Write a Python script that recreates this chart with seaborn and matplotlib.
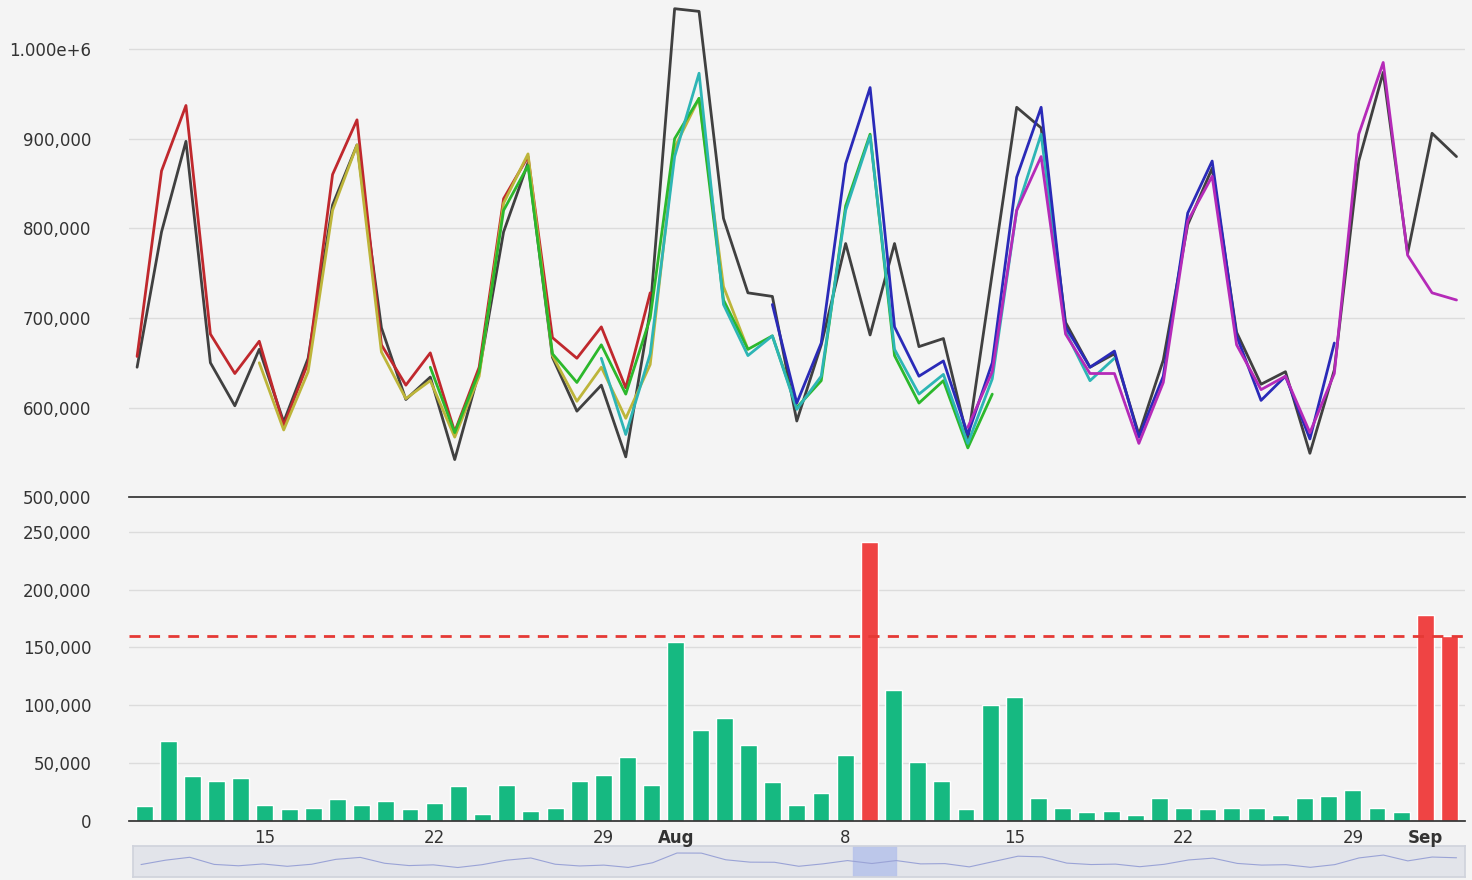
import numpy as np, pandas as pd, matplotlib
matplotlib.use("Agg")
import matplotlib.pyplot as plt
from matplotlib.ticker import FuncFormatter, NullFormatter
import seaborn as sns

sns.set_theme(style="white")
plt.rcParams['font.family'] = ['DejaVu Sans']

start = "2024-07-10"
actual = [645,796,897,650,602,665,584,655,826,893,689,609,634,542,640,796,873,656,596,625,545,708,
          1045,1042,811,728,724,585,670,783,681,783,668,677,564,750,935,912,695,645,660,570,653,804,867,
          684,626,640,549,642,875,974,772,906,880]
fc_red = ("2024-07-10",[657,864,937,682,638,674,580,650,860,921,670,625,661,573,645,833,880,678,655,690,622,728])
fc_olive = ("2024-07-15",[650,575,640,820,893,662,610,630,567,635,828,883,658,607,645,588,648,890,945,735,665])
fc_green = ("2024-07-22",[645,572,640,820,870,660,628,670,615,700,900,945,720,665,680,600,630,825,905,658,605,630,555,615])
fc_teal = ("2024-07-29",[655,570,660,880,973,715,658,680,598,635,820,903,665,615,637,560,632,820,905,685,630,655])
fc_navy = ("2024-08-05",[715,605,672,872,957,690,635,652,570,650,857,935,690,645,663,567,635,817,875,680,608,635,565,672])
fc_mag = ("2024-08-13",[578,640,820,880,682,638,638,560,628,808,858,670,620,635,572,638,905,985,770,728,720])
errors = [13,69,39,35,37,14,10,11,19,14,17,10,16,30,6,31,9,11,35,40,55,31,155,79,89,66,34,14,24,57,
          241,113,51,35,10,100,107,20,11,8,9,5,20,11,10,11,11,5,20,22,27,11,8,178,160]
threshold = 160

bg = "#f4f4f4"
fig = plt.figure(figsize=(14.72, 8.8), dpi=100, facecolor=bg)
ax1 = fig.add_axes([0.0876, 0.435, 0.9074, 0.565])
ax2 = fig.add_axes([0.0876, 0.067, 0.9074, 0.359])
ax3 = fig.add_axes([0.0903, 0.003, 0.9047, 0.036])
for a in (ax1, ax2, ax3):
    a.set_facecolor(bg)

dates = pd.date_range(start, periods=len(actual), freq="D")
series = [(fc_red, "#c0282d"), (fc_olive, "#bdb53a"), (fc_green, "#2cb82c"),
          (fc_teal, "#2db5b5"), (fc_navy, "#2a2ab8"), (fc_mag, "#b52ab8")]
sns.lineplot(x=dates, y=np.array(actual)*1000, ax=ax1, color="#404040", lw=2)
for (s, vals), c in series:
    d = pd.date_range(s, periods=len(vals), freq="D")
    sns.lineplot(x=d, y=np.array(vals)*1000, ax=ax1, color=c, lw=2)

tick_dates = pd.to_datetime(["2024-07-15","2024-07-22","2024-07-29","2024-08-01","2024-08-08",
                             "2024-08-15","2024-08-22","2024-08-29","2024-09-01"])
tick_labels = ["15","22","29","Aug","8","15","22","29","Sep"]

ax1.set_ylim(500000, 1054700)
ax1.set_yticks([500000,600000,700000,800000,900000,1000000])
ax1.yaxis.set_major_formatter(FuncFormatter(lambda v,p: "1.000e+6" if v >= 1e6 else f"{int(v):,}"))
ax1.grid(axis="y", color="#dcdcdc", lw=1)
for s in ("top","right","left"):
    ax1.spines[s].set_visible(False)
ax1.spines["bottom"].set_color("#333")
ax1.tick_params(axis="y", length=0, labelsize=12, colors="#333", pad=27)
ax1.set_xlim(pd.Timestamp(start) - pd.Timedelta(hours=8), dates[-1] + pd.Timedelta(hours=8))
ax1.set_xticks(tick_dates)
ax1.xaxis.set_major_formatter(NullFormatter())
ax1.tick_params(axis="x", length=6, color="#333", direction="out")

colors = ["#ef4444" if e >= threshold else "#16b981" for e in errors]
ax2.bar(dates, np.array(errors)*1000, width=0.7, color=colors)
ax2.axhline(threshold*1000, color="#e53935", ls=(0,(4,3)), lw=2)
ax2.set_xlim(pd.Timestamp(start) - pd.Timedelta(hours=15), dates[-1] + pd.Timedelta(hours=15))
ax2.set_ylim(0, 273000)
ax2.set_yticks(range(0, 250001, 50000))
ax2.yaxis.set_major_formatter(FuncFormatter(lambda v,p: f"{int(v):,}"))
ax2.grid(axis="y", color="#dcdcdc", lw=1)
for s in ("top","right","left"):
    ax2.spines[s].set_visible(False)
ax2.spines["bottom"].set_color("#333")
ax2.tick_params(axis="y", length=0, labelsize=12, colors="#333", pad=27)
ax2.set_xticks(tick_dates)
ax2.set_xticklabels(tick_labels)
ax2.tick_params(axis="x", length=0, labelsize=12, colors="#333", pad=6)
for lbl in ax2.get_xticklabels():
    if lbl.get_text() in ("Aug","Sep"):
        lbl.set_fontweight("bold")

ax3.set_facecolor("#e2e4ea")
ax3.plot(dates, actual, color="#9aa3d6", lw=0.8)
ax3.set_xlim(ax1.get_xlim())
ax3.set_ylim(200, 1300)
ax3.axvspan(pd.Timestamp("2024-08-08") + pd.Timedelta(hours=5), pd.Timestamp("2024-08-10"),
            color="#b8c4ea", alpha=0.9)
ax3.set_yticks([]); ax3.set_xticks([])
for s in ax3.spines.values():
    s.set_color("#d0d3dc")
ax3.set_zorder(-1)
fig.savefig("out.png", dpi=100, facecolor=bg)
